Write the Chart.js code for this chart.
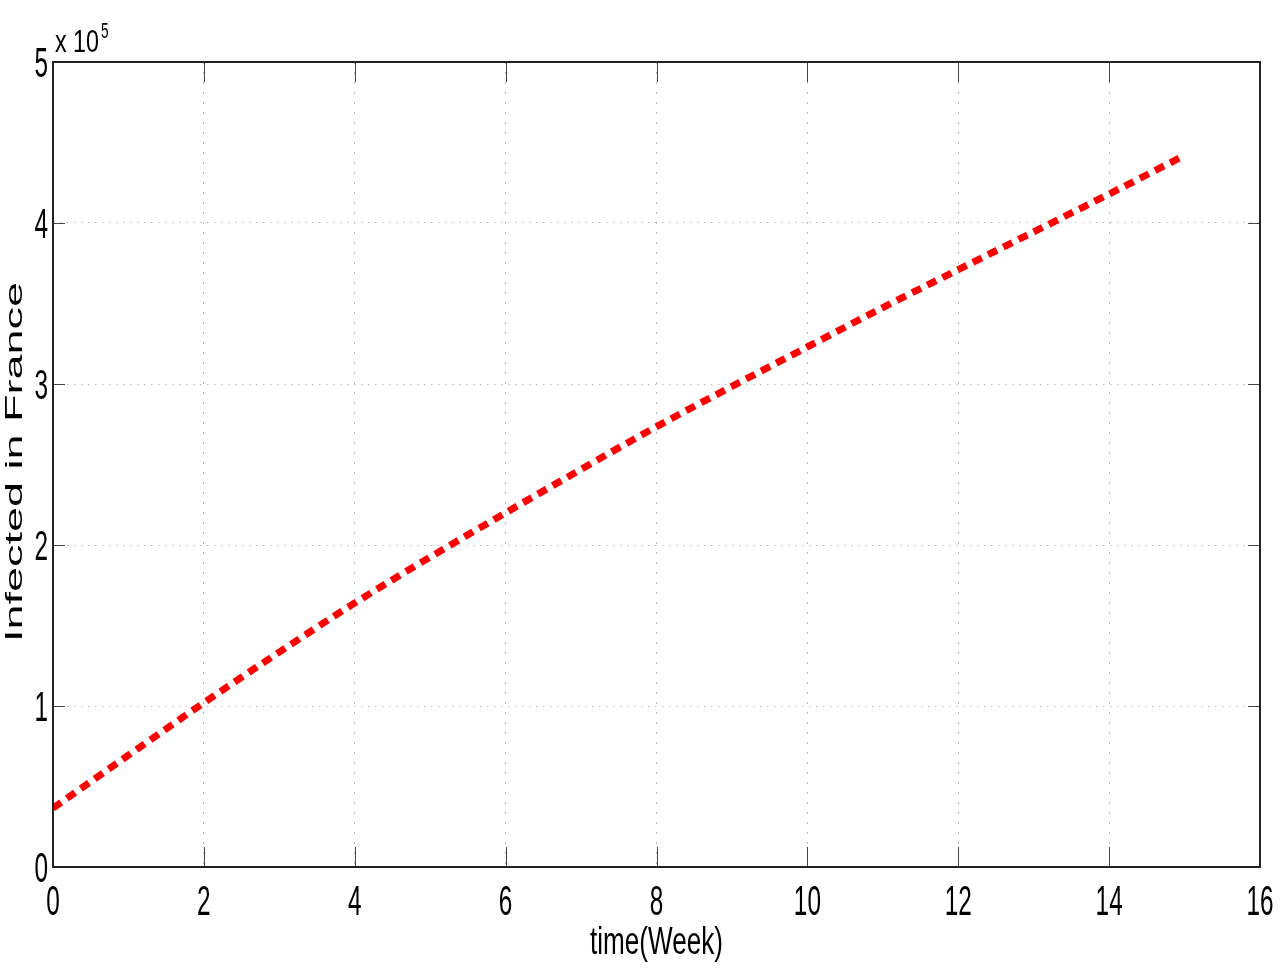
<!DOCTYPE html>
<html>
<head>
<meta charset="utf-8">
<script src="https://cdn.jsdelivr.net/npm/chart.js@4.4.1/dist/chart.umd.min.js"></script>
<style>
  html, body { margin: 0; padding: 0; background: #fff; }
  #wrap { width: 1280px; height: 971px; }
</style>
</head>
<body>
<div id="wrap"><canvas id="c" width="1280" height="971"></canvas></div>
<script>
// ---- data ----
const weeks = [0, 1, 2, 3, 4, 5, 6, 7, 8, 9, 10, 11, 12, 13, 14, 15];
const infected = [36500, 69500, 102000, 133500, 164000, 192500, 220000, 247000,
                  273500, 298500, 323000, 347500, 371000, 394500, 418000, 442000];
const xTickValues = [0, 2, 4, 6, 8, 10, 12, 14, 16];
const yTickValues = [0, 100000, 200000, 300000, 400000, 500000];
const xTitle = 'time(Week)';
const yTitle = 'Infected in France';
const expBase = 'x 10';
const expPower = '5';

const FONT = "'Liberation Sans', Arial, sans-serif";

function drawText(ctx, text, x, y, size, sx, sy, align, baseline) {
  ctx.save();
  ctx.font = size + 'px ' + FONT;
  ctx.textAlign = align;
  ctx.textBaseline = baseline;
  ctx.translate(x, y);
  ctx.scale(sx, sy);
  ctx.fillText(text, 0, 0);
  ctx.restore();
}

const framePlugin = {
  id: 'frame',
  afterDraw(chart) {
    const { ctx, chartArea: a, scales: { x, y } } = chart;
    ctx.save();
    ctx.setLineDash([]);
    // inward tick marks
    ctx.strokeStyle = '#444';
    ctx.lineWidth = 1;
    ctx.beginPath();
    x.ticks.forEach(t => {
      const px = Math.round(x.getPixelForValue(t.value)) + 0.5;
      ctx.moveTo(px, a.bottom); ctx.lineTo(px, a.bottom - 20);
      ctx.moveTo(px, a.top); ctx.lineTo(px, a.top + 20);
    });
    y.ticks.forEach(t => {
      const py = Math.round(y.getPixelForValue(t.value)) + 0.5;
      ctx.moveTo(a.left, py); ctx.lineTo(a.left + 12, py);
      ctx.moveTo(a.right, py); ctx.lineTo(a.right - 12, py);
    });
    ctx.stroke();
    // box
    ctx.strokeStyle = '#222';
    ctx.lineWidth = 2;
    ctx.strokeRect(a.left, a.top, a.right - a.left, a.bottom - a.top);

    ctx.fillStyle = '#000';
    // tick labels (narrow, tall digits as in the reference)
    x.ticks.forEach(t => {
      drawText(ctx, String(t.value), x.getPixelForValue(t.value), 915, 42, 0.58, 1, 'center', 'alphabetic');
    });
    y.ticks.forEach(t => {
      drawText(ctx, String(t.value / 100000), a.left - 5, y.getPixelForValue(t.value) + 15, 42, 0.58, 1, 'right', 'alphabetic');
    });

    // exponent label
    ctx.save();
    ctx.font = '31px ' + FONT;
    const w = ctx.measureText(expBase).width * 0.75;
    ctx.restore();
    drawText(ctx, expBase, a.left + 2, 52, 31, 0.75, 1, 'left', 'alphabetic');
    drawText(ctx, expPower, a.left + 2 + w + 2, 38, 22, 0.62, 1, 'left', 'alphabetic');

    // x title
    drawText(ctx, xTitle, (a.left + a.right) / 2, 954, 39, 0.67, 1, 'center', 'alphabetic');

    // y title (rotated, stretched along its length)
    ctx.save();
    ctx.font = '24px ' + FONT;
    ctx.textAlign = 'center';
    ctx.textBaseline = 'middle';
    const tw = ctx.measureText(yTitle).width;
    ctx.translate(15, 462);
    ctx.rotate(-Math.PI / 2);
    ctx.scale(360 / tw, 1);
    ctx.fillText(yTitle, 0, 0);
    ctx.restore();

    ctx.restore();
  }
};

new Chart(document.getElementById('c'), {
  type: 'line',
  data: {
    datasets: [{
      data: weeks.map((w, i) => ({ x: w, y: infected[i] })),
      borderColor: '#ff0000',
      borderWidth: 7,
      borderDash: [10, 7],
      borderCapStyle: 'butt',
      pointRadius: 0,
      fill: false,
      cubicInterpolationMode: 'monotone'
    }]
  },
  options: {
    responsive: false,
    devicePixelRatio: 1,
    animation: false,
    layout: { padding: { top: 62, right: 20, left: 0, bottom: 0 } },
    plugins: { legend: { display: false }, tooltip: { enabled: false } },
    scales: {
      x: {
        type: 'linear',
        min: 0, max: 16,
        afterBuildTicks: s => { s.ticks = xTickValues.map(v => ({ value: v })); },
        afterFit: s => { s.height = 104; s.paddingLeft = 0; s.paddingRight = 0; },
        grid: { color: '#bbbbbb', lineWidth: 1, drawTicks: false },
        border: { display: false, dash: [2, 8] },
        ticks: { display: false }
      },
      y: {
        type: 'linear',
        min: 0, max: 500000,
        afterBuildTicks: s => { s.ticks = yTickValues.map(v => ({ value: v })); },
        afterFit: s => { s.width = 53; s.paddingTop = 0; s.paddingBottom = 0; },
        grid: { color: '#bbbbbb', lineWidth: 1, drawTicks: false },
        border: { display: false, dash: [1.5, 5.5] },
        ticks: { display: false }
      }
    }
  },
  plugins: [framePlugin]
});
</script>
</body>
</html>
